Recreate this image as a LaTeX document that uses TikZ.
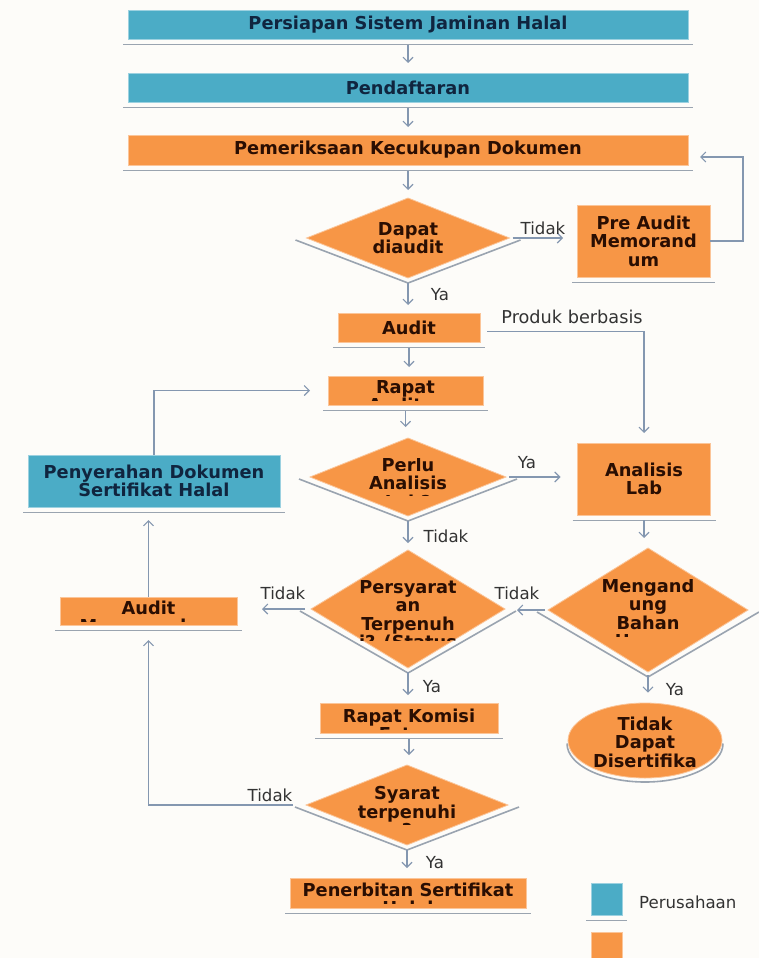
\documentclass[tikz,border=0pt]{standalone}
\usepackage{fontspec}
\setmainfont{DejaVu Sans}
\usetikzlibrary{shapes.geometric,arrows.meta}
\definecolor{teal1}{HTML}{4BACC6}
\definecolor{orng}{HTML}{F79646}
\definecolor{navy}{HTML}{10253F}
\definecolor{brn}{HTML}{2A0E02}
\definecolor{conn}{HTML}{8497B0}
\definecolor{shade}{HTML}{9AA4B0}
\definecolor{bg}{HTML}{FDFCF9}
\definecolor{lbl}{HTML}{333333}
\newcommand\bxfont{\fontsize{17.8}{18.5}\selectfont\bfseries}
\newcommand\lbfont{\fontsize{16.6}{18}\selectfont}
\tikzset{
 boxbase/.style={rectangle, inner sep=0pt, outer sep=0pt, align=center, font=\bxfont},
 tbox/.style={boxbase, fill=teal1, draw=teal1!55!white, line width=0.8pt, text=navy},
 obox/.style={boxbase, fill=orng, draw=orng!55!white, line width=0.8pt, text=brn},
 dia/.style={diamond, inner sep=0pt, outer sep=0pt, fill=orng, draw=orng!55!white, line width=0.8pt},
 txt/.style={inner sep=0pt, align=center, font=\bxfont, text=brn},
 lab/.style={inner sep=0pt, font=\lbfont, text=lbl},
 arr/.style={draw=conn, line width=1.1pt, -{Straight Barb[length=5pt,width=10pt]}},
 uline/.style={draw=shade, line width=1.6pt},
}
\newcommand\uln[1]{\draw[uline] ([shift={(-5,5.5)}]#1.south west) -- ([shift={(5,5.5)}]#1.south east);}
\newcommand\dbev[1]{\draw[uline] ([shift={(-11,2)}]#1.west) -- ([shift={(0,5)}]#1.south) -- ([shift={(11,2)}]#1.east);}
\begin{document}
\begin{tikzpicture}[x=1pt,y=-1pt]
\useasboundingbox (0,0) rectangle (759,958);
\fill[bg] (0,0) rectangle (759,958);

% boxes
\node[tbox, minimum width=560, minimum height=29] (b1) at (408,24.5) {Persiapan Sistem Jaminan Halal};
\node[tbox, minimum width=560, minimum height=29] (b2) at (408,87.5) {Pendaftaran};
\node[obox, minimum width=560, minimum height=30] (b3) at (408,150) {Pemeriksaan Kecukupan Dokumen};

\node[dia, minimum width=203, minimum height=80] (d1) at (408,238) {};
\node[txt] (t1) at (408,238) {Dapat\\diaudit};

\node[obox, minimum width=133, minimum height=72] (pre) at (643.5,241) {Pre Audit\\Memorand\\um};
\node[obox, minimum width=142, minimum height=29] (aud) at (409,327.5) {Audit};

\node[obox, minimum width=155, minimum height=29] (rap) at (405.5,390.5) {};
\begin{scope}\clip (329,377) rectangle (482,400.5);
\node[txt] (t2) at (405.5,396) {Rapat\\Auditor};\end{scope}

\node[dia, minimum width=196, minimum height=78] (d2) at (408,477) {};
\begin{scope}\clip (356,458) rectangle (460,495.5);
\node[txt] (t3) at (408,483) {Perlu\\Analisis\\Lab?};\end{scope}

\node[obox, minimum width=133, minimum height=72] (lab) at (644,479) {Analisis\\Lab};
\node[tbox, minimum width=252, minimum height=52] (pen) at (154,481) {Penyerahan Dokumen\\Sertifikat Halal};

\node[dia, minimum width=200, minimum height=124] (d4) at (648,610) {};
\begin{scope}\clip (596,579) rectangle (700,636.5);
\node[txt] (t4) at (648,613.6) {Mengand\\ung\\Bahan\\Haram};\end{scope}

\node[dia, minimum width=194, minimum height=118] (d3) at (408,609) {};
\begin{scope}\clip (355,580) rectangle (461,640);
\node[txt] (t5) at (408,615.9) {Persyarat\\an\\Terpenuh\\i? (Status};\end{scope}

\node[obox, minimum width=177, minimum height=28] (am) at (148.5,611) {};
\begin{scope}\clip (61,598) rectangle (236,621.5);
\node[txt] (t6) at (148.5,617) {Audit\\Memorandum};\end{scope}

\draw[uline] (567,743.5) arc[start angle=180, end angle=360, x radius=78pt, y radius=38.5pt];
\node[ellipse, fill=orng, draw=orng!55!white, line width=0.8pt, inner sep=0pt, minimum width=154, minimum height=75] (ell) at (645,740.5) {};
\node[txt] (t7) at (645,742) {Tidak\\Dapat\\Disertifika};

\node[obox, minimum width=178, minimum height=30] (kom) at (409,718) {};
\begin{scope}\clip (321,704) rectangle (497,729);
\node[txt] (t8) at (409,725) {Rapat Komisi\\Fatwa};\end{scope}

\node[dia, minimum width=202, minimum height=80] (d5) at (407,805) {};
\begin{scope}\clip (354,785) rectangle (460,824);
\node[txt] (t9) at (407,811.8) {Syarat\\terpenuhi\\?};\end{scope}

\node[obox, minimum width=236, minimum height=30] (pnb) at (408,893) {};
\begin{scope}\clip (291,879) rectangle (525,903);
\node[txt] (t10) at (408,899) {Penerbitan Sertifikat\\Halal};\end{scope}

% legend
\node[tbox, minimum width=31, minimum height=32] (lg1) at (606.5,899) {};
\node[lab, anchor=west] (lg1t) at (639,902) {Perusahaan};
\node[obox, minimum width=31, minimum height=26] (lg2) at (606.5,945) {};

% underlines and bevels
\uln{b1}\uln{b2}\uln{b3}\uln{pre}\uln{aud}\uln{rap}\uln{lab}\uln{pen}\uln{am}\uln{kom}\uln{pnb}\uln{lg1}
\dbev{d1}\dbev{d2}\dbev{d3}\dbev{d4}\dbev{d5}

% connectors
\draw[arr, shorten <=6pt, shorten >=10pt] (b1.south) -- (b2.north);
\draw[arr, shorten <=6pt, shorten >=8pt] (b2.south) -- (b3.north);
\draw[arr, shorten <=6pt, shorten >=8pt] (b3.south) -- (d1.north);
\draw[arr, shorten <=3pt, shorten >=14pt] (d1.east) -- (d1.east -| pre.west);
\draw[arr] (pre.east) -- ++(33,0) |- ([shift={(12,7)}]b3.east);
\draw[arr, shorten <=5pt, shorten >=8pt] (d1.south) -- (d1.south |- aud.north);
\draw[arr, shorten <=6pt, shorten >=9pt] (aud.south) -- (aud.south |- rap.north);
\draw[arr, shorten >=10pt] ([shift={(7,4)}]aud.east) -| (lab.north);
\draw[arr, shorten <=6pt, shorten >=11pt] (rap.south) -- (rap.south |- d2.north);
\draw[arr, shorten <=3pt, shorten >=17pt] (d2.east) -- (d2.east -| lab.west);
\draw[arr, shorten <=5pt, shorten >=10pt] (lab.south) -- (lab.south |- d4.north);
\draw[arr, shorten <=5pt, shorten >=7pt] (d2.south) -- (d3.north);
\draw[arr, shorten <=3pt, shorten >=12pt] (d4.west) -- (d4.west -| d3.east);
\draw[arr, shorten <=6pt, shorten >=25pt] (d3.west) -- (d3.west -| am.east);
\draw[arr, shorten >=13pt] (am.north) -- (am.north |- pen.south);
\draw[arr, shorten >=18pt] (pen.north) |- (rap.west);
\draw[arr, shorten <=3pt, shorten >=10pt] (d4.south) -- (d4.south |- ell.north);
\draw[arr, shorten <=4pt, shorten >=8pt] (d3.south) -- (d3.south |- kom.north);
\draw[arr, shorten <=6pt, shorten >=10pt] (kom.south) -- (kom.south |- d5.north);
\draw[arr, shorten <=13pt, shorten >=15pt] (d5.west) -| (am.south);
\draw[arr, shorten <=5pt, shorten >=10pt] (d5.south) -- (d5.south |- pnb.north);

% labels
\node[lab] (l1) at (543,228) {Tidak};
\node[lab] (l2) at (440,295) {Ya};
\node[lab, font=\fontsize{17.7}{18}\selectfont] (l3) at (572,317) {Produk berbasis};
\node[lab] (l4) at (527,463) {Ya};
\node[lab] (l5) at (446,536) {Tidak};
\node[lab] (l6) at (517,593) {Tidak};
\node[lab] (l7) at (283,593) {Tidak};
\node[lab] (l8) at (675,690) {Ya};
\node[lab] (l9) at (432,687) {Ya};
\node[lab] (l10) at (270,795) {Tidak};
\node[lab] (l11) at (435,863) {Ya};
\end{tikzpicture}
\end{document}
